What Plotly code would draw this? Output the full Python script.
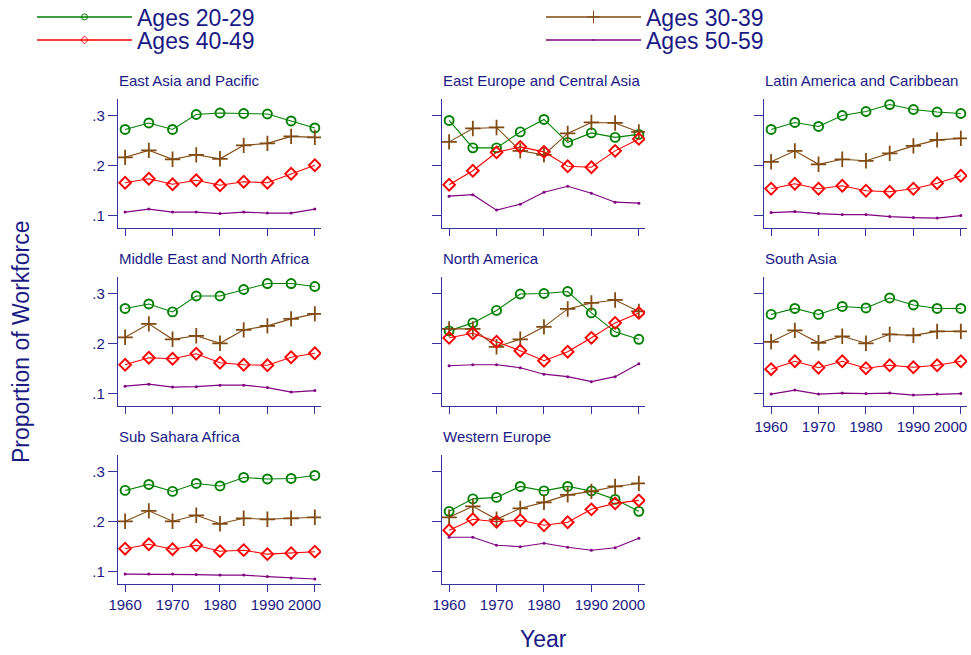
import plotly.graph_objects as go

years = [1960, 1965, 1970, 1975, 1980, 1985, 1990, 1995, 2000]

regions = [
    "East Asia and Pacific", "East Europe and Central Asia", "Latin America and Caribbean",
    "Middle East and North Africa", "North America", "South Asia",
    "Sub Sahara Africa", "Western Europe",
]

ages_20_29 = [
    [0.273, 0.286, 0.273, 0.303, 0.306, 0.305, 0.304, 0.290, 0.276],
    [0.291, 0.236, 0.236, 0.268, 0.293, 0.247, 0.266, 0.257, 0.263],
    [0.273, 0.287, 0.279, 0.301, 0.309, 0.323, 0.313, 0.308, 0.305],
    [0.271, 0.280, 0.264, 0.296, 0.296, 0.309, 0.321, 0.321, 0.315],
    [0.226, 0.242, 0.267, 0.300, 0.301, 0.305, 0.262, 0.224, 0.209],
    [0.259, 0.271, 0.259, 0.275, 0.272, 0.292, 0.278, 0.271, 0.271],
    [0.263, 0.275, 0.261, 0.277, 0.272, 0.289, 0.286, 0.287, 0.293],
    [0.221, 0.246, 0.249, 0.271, 0.262, 0.271, 0.262, 0.245, 0.221],
]
ages_30_39 = [
    [0.217, 0.231, 0.213, 0.222, 0.214, 0.241, 0.245, 0.259, 0.257],
    [0.248, 0.275, 0.277, 0.230, 0.222, 0.265, 0.287, 0.286, 0.268],
    [0.208, 0.230, 0.203, 0.213, 0.210, 0.225, 0.240, 0.252, 0.255],
    [0.213, 0.240, 0.209, 0.216, 0.201, 0.228, 0.236, 0.250, 0.260],
    [0.230, 0.230, 0.194, 0.209, 0.234, 0.270, 0.282, 0.288, 0.265],
    [0.204, 0.227, 0.202, 0.215, 0.201, 0.219, 0.217, 0.225, 0.225],
    [0.201, 0.222, 0.201, 0.213, 0.196, 0.207, 0.205, 0.207, 0.209],
    [0.209, 0.231, 0.205, 0.227, 0.239, 0.254, 0.261, 0.271, 0.277],
]
ages_40_49 = [
    [0.166, 0.174, 0.163, 0.171, 0.161, 0.168, 0.166, 0.184, 0.201],
    [0.162, 0.190, 0.227, 0.238, 0.228, 0.199, 0.197, 0.230, 0.254],
    [0.154, 0.164, 0.154, 0.160, 0.150, 0.148, 0.154, 0.165, 0.180],
    [0.158, 0.172, 0.170, 0.180, 0.162, 0.158, 0.157, 0.173, 0.181],
    [0.212, 0.221, 0.204, 0.186, 0.166, 0.184, 0.212, 0.242, 0.262],
    [0.149, 0.165, 0.152, 0.165, 0.151, 0.157, 0.153, 0.157, 0.165],
    [0.146, 0.155, 0.145, 0.153, 0.141, 0.143, 0.135, 0.137, 0.140],
    [0.183, 0.205, 0.200, 0.203, 0.193, 0.199, 0.225, 0.237, 0.243],
]
ages_50_59 = [
    [0.107, 0.113, 0.107, 0.107, 0.104, 0.107, 0.105, 0.105, 0.113],
    [0.139, 0.142, 0.111, 0.123, 0.147, 0.159, 0.145, 0.127, 0.125],
    [0.106, 0.108, 0.104, 0.102, 0.102, 0.098, 0.096, 0.095, 0.100],
    [0.115, 0.119, 0.113, 0.114, 0.117, 0.117, 0.112, 0.103, 0.106],
    [0.156, 0.158, 0.158, 0.152, 0.139, 0.134, 0.124, 0.134, 0.160],
    [0.099, 0.107, 0.099, 0.101, 0.100, 0.101, 0.097, 0.099, 0.100],
    [0.095, 0.095, 0.095, 0.094, 0.093, 0.093, 0.090, 0.087, 0.085],
    [0.169, 0.169, 0.153, 0.150, 0.157, 0.149, 0.143, 0.148, 0.167],
]

series_names = ["Ages 20-29", "Ages 30-39", "Ages 40-49", "Ages 50-59"]
y_tick_vals = [0.1, 0.2, 0.3]
y_tick_text = [".1", ".2", ".3"]
x_tick_vals = [1960, 1970, 1980, 1990, 2000]
# last label is nudged left (as in the original) with trailing figure spaces
x_tick_text = ["1960", "1970", "1980", "1990", "2000\u2007\u2007\u00a0"]

# the page body margin is removed after plotting, so the figure fills the window
W, H = 971, 655


def fx(px):
    return px / W


def fy(py):
    return 1 - py / H


NAVY = "#1a1a85"
AXIS = "#34349c"
FONT = "Arial, Liberation Sans, Helvetica, sans-serif"

styles = [
    dict(color="#008000", symbol="circle-open", size=9, lw=1.9),
    dict(color="#804a10", symbol="cross-thin-open", size=11, lw=1.8),
    dict(color="#ff0000", symbol="diamond-open", size=9, lw=1.9),
    dict(color="#800080", symbol="circle", size=3, lw=0),
]
all_series = [ages_20_29, ages_30_39, ages_40_49, ages_50_59]

col_x = [118, 442, 764]
row_top = [99.3, 277.3, 455.3]
pw, ph = 203, 129

fig = go.Figure()
layout = dict(
    width=W, height=H, margin=dict(l=0, r=0, t=0, b=0, autoexpand=False),
    paper_bgcolor="white", plot_bgcolor="white", showlegend=True,
    font=dict(family=FONT, color=NAVY),
)
annotations = []

for i, reg in enumerate(regions):
    r, c = divmod(i, 3)
    k = i + 1
    xa = "xaxis" if k == 1 else f"xaxis{k}"
    ya = "yaxis" if k == 1 else f"yaxis{k}"
    xr = "x" if k == 1 else f"x{k}"
    yr = "y" if k == 1 else f"y{k}"
    x0 = col_x[c]
    top = row_top[r]
    bottom_of_col = (i + 3) >= len(regions)
    layout[xa] = dict(
        domain=[fx(x0), fx(x0 + pw)], anchor=yr, range=[1958.5, 2001.3],
        showgrid=False, zeroline=False, showline=True, linecolor=AXIS, linewidth=1.3,
        ticks="outside", ticklen=7, tickcolor=AXIS, tickwidth=1.3,
        tickvals=x_tick_vals, ticktext=x_tick_text, showticklabels=bottom_of_col,
        automargin=False, ticklabeloverflow="allow",
        tickfont=dict(size=15, color=NAVY, family=FONT),
    )
    layout[ya] = dict(
        domain=[fy(top + ph), fy(top)], anchor=xr, range=[0.0745, 0.3335],
        showgrid=False, zeroline=False, showline=True, linecolor=AXIS, linewidth=1.3,
        ticks="outside", ticklen=9, tickcolor=AXIS, tickwidth=1.3,
        tickvals=y_tick_vals, ticktext=y_tick_text, showticklabels=(c == 0),
        automargin=False, tickfont=dict(size=15, color=NAVY, family=FONT),
    )
    annotations.append(dict(
        text=reg, xref="paper", yref="paper", x=fx(x0 - 1), y=fy(top - 19),
        xanchor="left", yanchor="middle", showarrow=False,
        font=dict(size=15, color=NAVY, family=FONT),
    ))
    for s, (name, st) in enumerate(zip(series_names, styles)):
        vals = all_series[s][i]
        fig.add_trace(go.Scatter(
            x=years, y=vals, xaxis=xr, yaxis=yr, mode="lines+markers",
            line=dict(color=st["color"], width=1.1),
            marker=dict(symbol=st["symbol"], size=st["size"], color=st["color"],
                        line=dict(color=st["color"], width=st["lw"])),
            showlegend=False, name=name, hoverinfo="x+y+name",
        ))

# legend-only entries (no data points), one legend per entry
legend_pos = [(32, 17), (541, 17), (32, 40), (541, 40)]
leg_styles = [
    dict(symbol="circle-open", size=6, lw=1),
    dict(symbol="cross-thin-open", size=9, lw=1),
    dict(symbol="diamond-open", size=6, lw=1),
    dict(symbol="circle", size=2, lw=0),
]
for s, (name, st) in enumerate(zip(series_names, styles)):
    lg = "legend" if s == 0 else f"legend{s + 1}"
    ls = leg_styles[s]
    fig.add_trace(go.Scatter(
        x=[None], y=[None], mode="lines+markers", name=name, legend=lg,
        line=dict(color=st["color"], width=1.5),
        marker=dict(symbol=ls["symbol"], size=ls["size"], color=st["color"],
                    line=dict(color=st["color"], width=ls["lw"])),
        showlegend=True,
    ))
    px, py = legend_pos[s]
    layout[lg] = dict(
        x=fx(px), y=fy(py), xanchor="left", yanchor="middle",
        orientation="v", itemwidth=95, bgcolor="rgba(0,0,0,0)", borderwidth=0,
        font=dict(size=23, color=NAVY, family=FONT), itemclick=False,
    )

annotations.append(dict(
    text="Proportion of Workforce", xref="paper", yref="paper", x=fx(21), y=fy(342),
    xanchor="center", yanchor="middle", textangle=-90, showarrow=False,
    font=dict(size=23, color=NAVY, family=FONT),
))
annotations.append(dict(
    text="Year", xref="paper", yref="paper", x=fx(543), y=fy(639),
    xanchor="center", yanchor="middle", showarrow=False,
    font=dict(size=23, color=NAVY, family=FONT),
))
layout["annotations"] = annotations
fig.update_layout(**layout)
fig.write_html(
    "out.html",
    config={"displayModeBar": False},
    post_script="document.body.style.margin='0';document.body.style.overflow='hidden';",
)
